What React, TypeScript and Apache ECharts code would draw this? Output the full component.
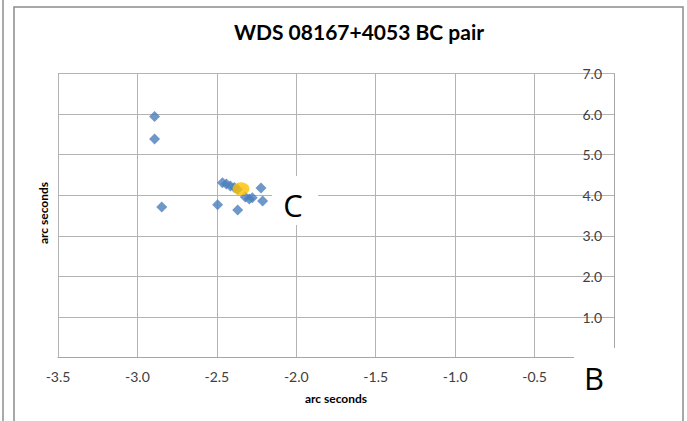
import React, { useEffect, useRef } from "react";
import * as echarts from "echarts";

const titleText = "WDS 08167+4053 BC pair";
const axisName = "arc seconds";
const xMin = -3.5;
const xMax = 0;
const xStep = 0.5;
const yMin = 0;
const yMax = 7;
const yStep = 1;

// companion positions (blue diamonds)
const bX = [-2.892, -2.892, -2.847, -2.495, -2.369, -2.222, -2.212, -2.465, -2.44, -2.415, -2.39, -2.371, -2.321, -2.296, -2.277];
const bY = [5.94, 5.39, 3.71, 3.77, 3.64, 4.18, 3.86, 4.31, 4.28, 4.23, 4.19, 4.15, 3.96, 3.91, 3.94];
// mean position (yellow)
const cX = [-2.348];
const cY = [4.16];

const labelB = "B";
const labelC = "C";

export default function App() {
  const ref = useRef<HTMLDivElement>(null);
  useEffect(() => {
    if (!ref.current) return;
    const chart = echarts.init(ref.current, null, { renderer: "svg" });
    const font = "Lato, 'Open Sans', sans-serif";
    chart.setOption({
      animation: false,
      backgroundColor: "#ffffff",
      title: {
        text: titleText,
        left: 354,
        top: 16,
        textAlign: "center",
        textStyle: { fontFamily: font, fontSize: 21, fontWeight: "bold", color: "#000000" },
      },
      grid: { left: 58, right: 73, top: 73.6, bottom: 63.4, containLabel: false },
      xAxis: {
        type: "value",
        min: xMin,
        max: xMax,
        interval: xStep,
        name: axisName,
        nameLocation: "middle",
        nameGap: 35,
        nameTextStyle: { fontFamily: font, fontSize: 12, fontWeight: "bold", color: "#000000" },
        axisLine: { show: true, onZero: false, lineStyle: { color: "#A6A6A6", width: 1 } },
        axisTick: { show: false },
        axisLabel: {
          fontFamily: font,
          fontSize: 14,
          color: "#404040",
          margin: 12,
          formatter: (v: number) => (v === 0 ? "" : v.toFixed(1)),
        },
        splitLine: { show: true, lineStyle: { color: "#B3B3B3", width: 1 } },
      },
      yAxis: {
        type: "value",
        position: "right",
        min: yMin,
        max: yMax,
        interval: yStep,
        axisLine: { show: true, onZero: false, lineStyle: { color: "#A6A6A6", width: 1 } },
        axisTick: { show: false },
        axisLabel: {
          inside: true,
          fontFamily: font,
          fontSize: 14,
          color: "#404040",
          margin: 12,
          formatter: (v: number) => (v === 0 ? "" : v.toFixed(1)),
        },
        splitLine: { show: true, lineStyle: { color: "#B3B3B3", width: 1 } },
      },
      series: [
        {
          type: "scatter",
          data: bX.map((x, i) => [x, bY[i]]),
          symbol: "diamond",
          symbolSize: 11,
          itemStyle: { color: "#4A7EBB" },
          z: 3,
        },
        {
          type: "scatter",
          data: cX.map((x, i) => [x, cY[i]]),
          symbol: "circle",
          symbolSize: [17, 13],
          itemStyle: { color: "#FFC000" },
          z: 4,
        },
      ],
      graphic: [
        { type: "line", shape: { x1: 3, y1: 0, x2: 3, y2: 421 }, style: { stroke: "#8C8C8C", lineWidth: 1.5 }, z: 100 },
        { type: "rect", shape: { x: 14, y: 7, width: 669, height: 440 }, style: { fill: "none", stroke: "#8C8C8C", lineWidth: 1.5 }, z: 100 },
        { type: "rect", shape: { x: 272, y: 176, width: 46, height: 49 }, style: { fill: "#ffffff" }, z: 100 },
        { type: "text", x: 293, y: 205, style: { text: labelC, fontFamily: "'Open Sans', sans-serif", fontSize: 31, fill: "#000000", align: "center", verticalAlign: "middle" }, z: 101 },
        { type: "rect", shape: { x: 574, y: 348, width: 50, height: 55 }, style: { fill: "#ffffff" }, z: 100 },
        { type: "text", x: 594, y: 378, style: { text: labelB, fontFamily: "'Open Sans', sans-serif", fontSize: 31, fill: "#000000", align: "center", verticalAlign: "middle" }, z: 101 },
        { type: "text", x: 43, y: 213, rotation: Math.PI / 2, style: { text: axisName, fontFamily: font, fontSize: 12, fontWeight: "bold", fill: "#000000", align: "center", verticalAlign: "middle" }, z: 101 },
      ],
    });
    return () => chart.dispose();
  }, []);
  return <div ref={ref} style={{ position: "absolute", left: 0, top: 0, width: 687, height: 421 }} />;
}
